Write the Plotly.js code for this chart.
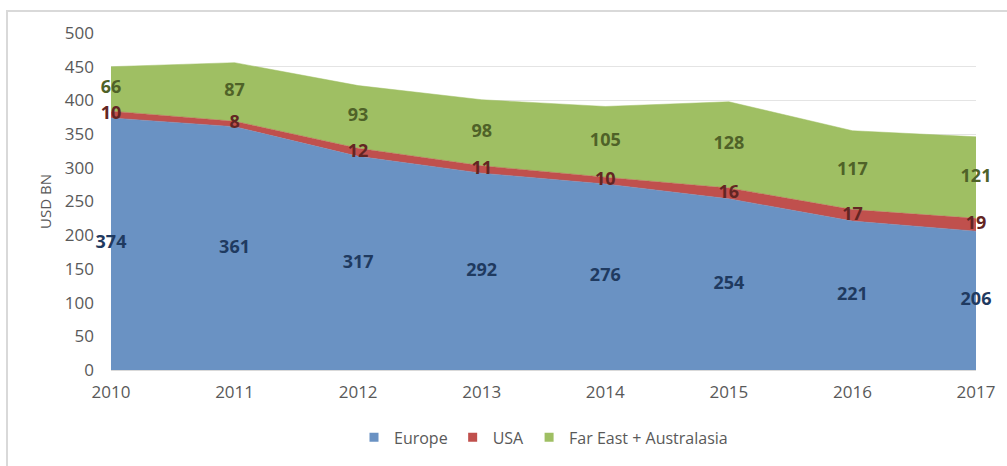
<!DOCTYPE html>
<html>
<head>
<meta charset="utf-8">
<script src="https://cdn.plot.ly/plotly-3.0.1.min.js"></script>
<style>
  html, body { margin: 0; padding: 0; background: #ffffff; }
  #frame { position: absolute; left: 6px; top: 10px; width: 1001px; height: 456px;
           border-top: 2px solid #d9d9d9; border-left: 2px solid #d9d9d9; box-sizing: border-box; }
  #chart { position: absolute; left: 0; top: 0; width: 1007px; height: 466px; }
</style>
</head>
<body>
<div id="frame"></div>
<div id="chart"></div>
<script>
const years = [2010, 2011, 2012, 2013, 2014, 2015, 2016, 2017];
const europe = [374, 361, 317, 292, 276, 254, 221, 206];
const usa = [10, 8, 12, 11, 10, 16, 17, 19];
const farEast = [66, 87, 93, 98, 105, 128, 117, 121];
const seriesNames = ['Europe', 'USA', 'Far East + Australasia'];
const yTicks = [0, 50, 100, 150, 200, 250, 300, 350, 400, 450, 500];

const fillColors = ['#6A92C3', '#C0504D', '#9FBF63'];
const labelColors = ['#1F3A60', '#632523', '#4F6228'];
const font = 'Open Sans, sans-serif';

const series = [europe, usa, farEast];
const traces = [];
// stacked areas
series.forEach((vals, i) => {
  traces.push({
    type: 'scatter', x: years, y: vals, stackgroup: 'one', mode: 'lines',
    line: { width: 0.5, color: fillColors[i] }, fillcolor: fillColors[i],
    name: seriesNames[i], showlegend: false, hoverinfo: 'skip'
  });
});
// data labels at vertical centre of each band
let base = years.map(() => 0);
series.forEach((vals, i) => {
  const mids = vals.map((v, k) => base[k] + v / 2);
  base = base.map((b, k) => b + vals[k]);
  traces.push({
    type: 'scatter', x: years, y: mids, mode: 'text',
    text: vals.map(String), textposition: 'middle center',
    textfont: { family: font, size: 18, color: labelColors[i], weight: 'bold' },
    cliponaxis: false, showlegend: false, hoverinfo: 'skip'
  });
});
// legend entries
series.forEach((vals, i) => {
  traces.push({
    type: 'scatter', x: [null], y: [null], mode: 'markers',
    marker: { symbol: 'square', size: 9, color: fillColors[i] },
    name: seriesNames[i], showlegend: true
  });
});

const layout = {
  width: 1007, height: 466,
  margin: { l: 111, r: 31, t: 33, b: 93 },
  paper_bgcolor: 'rgba(0,0,0,0)', plot_bgcolor: 'rgba(0,0,0,0)',
  font: { family: font, size: 17, color: '#595959' },
  showlegend: true,
  legend: { orientation: 'h', traceorder: 'normal', x: 0.5, xanchor: 'center', y: -0.2, yanchor: 'middle',
            font: { family: font, size: 16, color: '#595959' }, itemwidth: 30 },
  xaxis: {
    range: [2010, 2017], tickvals: years, ticktext: years.map(String),
    showgrid: false, zeroline: false, showline: true, linecolor: '#d9d9d9', linewidth: 1,
    ticks: '', ticklabelstandoff: 7, fixedrange: true
  },
  yaxis: {
    range: [0, 500], tickvals: yTicks, showgrid: true, gridcolor: '#e4e4e4', gridwidth: 1,
    zeroline: false, showline: false, ticks: '', ticklabelstandoff: 16, fixedrange: true
  },
  annotations: [{
    text: 'USD BN', xref: 'paper', yref: 'paper', x: -0.077, y: 0.5,
    xanchor: 'center', yanchor: 'middle', textangle: -90, showarrow: false,
    font: { family: font, size: 15, color: '#595959' }
  }]
};

Plotly.newPlot('chart', traces, layout, { displayModeBar: false, staticPlot: true });
</script>
</body>
</html>
